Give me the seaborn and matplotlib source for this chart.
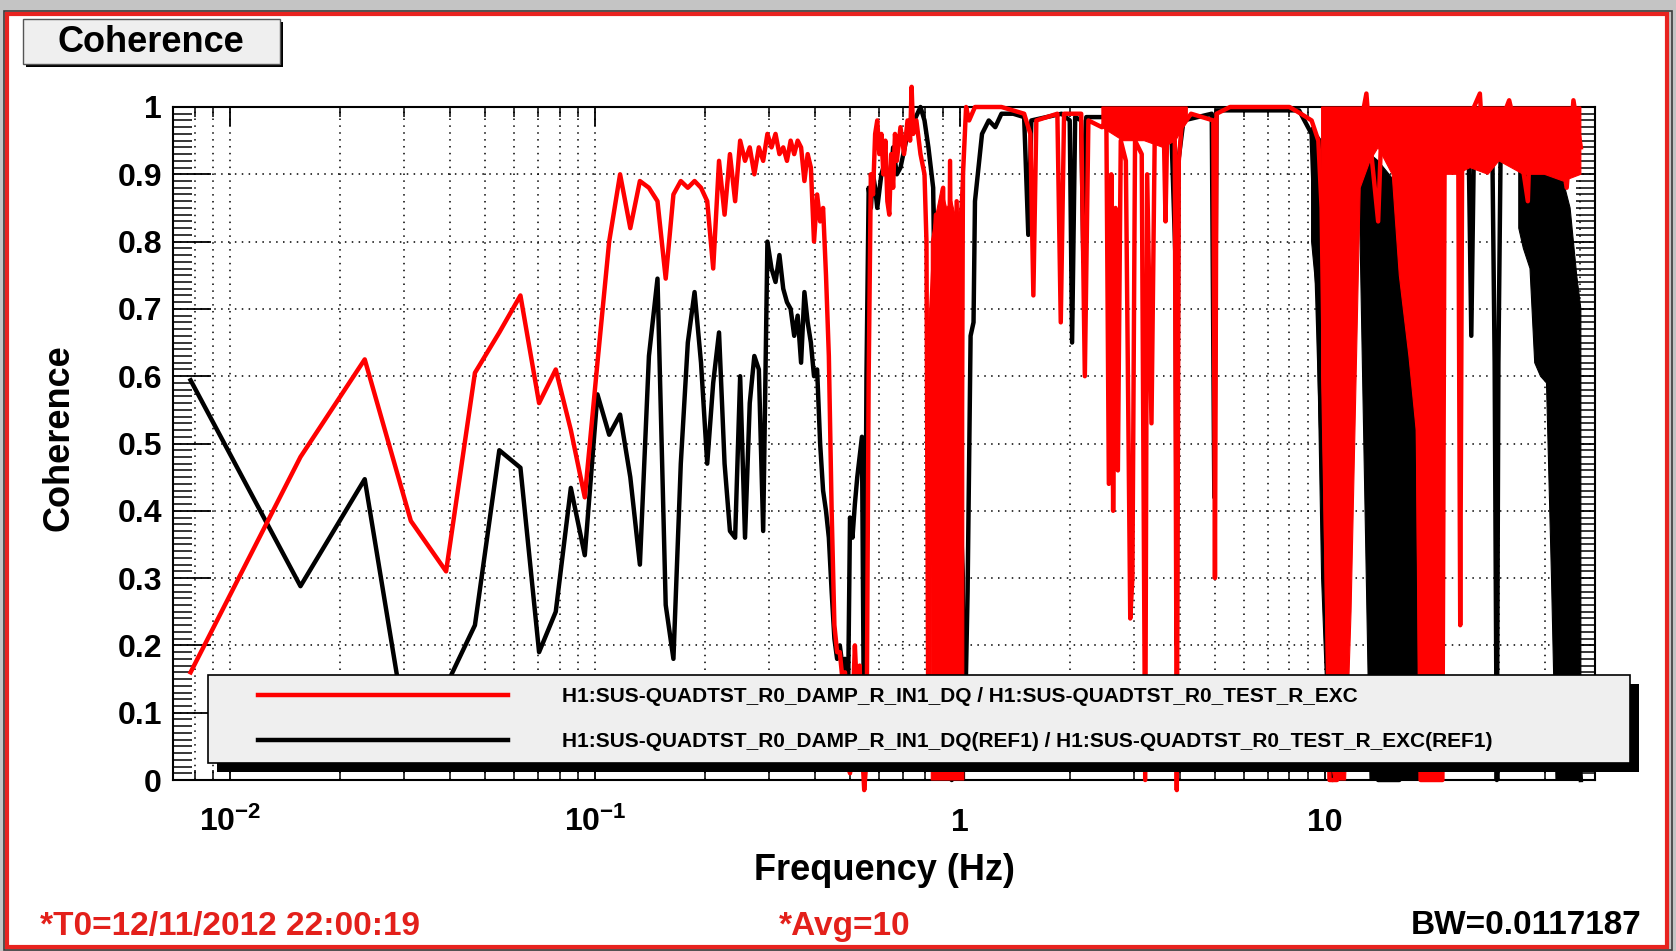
import numpy as np
import pandas as pd
import seaborn as sns
import matplotlib.pyplot as plt
from matplotlib import patches, patheffects
from matplotlib.ticker import MultipleLocator, LogLocator, NullFormatter

# coherence (frequency in Hz)
red_freq = [0.0078, 0.0156, 0.0234, 0.0313, 0.0391, 0.0469, 0.0547, 0.0625, 0.0703, 0.0781,
            0.0859, 0.0938, 0.1016, 0.1094, 0.1172, 0.125, 0.1328, 0.1406, 0.1484, 0.1563,
            0.1641, 0.1719, 0.1797, 0.1875, 0.1953, 0.2031, 0.2109, 0.2188, 0.2266, 0.2344,
            0.2422, 0.25, 0.2578, 0.2656, 0.2734, 0.2813, 0.2891, 0.2969, 0.3047, 0.3125,
            0.3203, 0.3281, 0.3359, 0.3438, 0.3516, 0.3594, 0.3672, 0.375, 0.3828, 0.3906,
            0.3984, 0.4063, 0.4141, 0.4219, 0.4297, 0.4375, 0.4453, 0.4531, 0.4609, 0.4688,
            0.4766, 0.4844, 0.4922, 0.5, 0.5078, 0.5156, 0.5234, 0.5313, 0.5391, 0.5469,
            0.5547, 0.5625, 0.5703, 0.5781, 0.5859, 0.5938, 0.6016, 0.6094, 0.6172, 0.625,
            0.6328, 0.6406, 0.6484, 0.6563, 0.6641, 0.6719, 0.6875, 0.7031, 0.7188, 0.7305,
            0.7375, 0.7451, 0.76, 0.78, 0.80, 0.81, 0.82, 0.835, 0.86, 0.88,
            0.90, 0.92, 0.94, 0.96, 0.98, 1.0, 1.02, 1.04, 1.06, 1.10,
            1.30, 1.50, 1.56, 1.59, 1.62, 1.85, 1.89, 1.93, 2.15, 2.20,
            2.25, 2.45, 2.52, 2.56, 2.60, 2.63, 2.67, 2.71, 2.76, 2.85,
            2.93, 2.97, 3.02, 3.15, 3.22, 3.26, 3.35, 3.42, 3.62, 3.66,
            3.70, 3.88, 3.93, 3.98, 4.05, 4.30, 4.95, 5.0, 5.05, 5.5,
            8.0, 8.6, 9.2, 9.6, 9.8, 10.3, 10.8, 11.5, 11.8, 12.5,
            13.0, 13.3, 14.0, 14.3, 15.3, 16.0, 17.0, 18.0, 18.3, 20.0,
            21.0, 21.3, 22.0, 23.2, 23.5, 23.8, 26.6, 27.0, 30.0, 32.0,
            34.0, 36.0, 36.5, 40.0, 44.0, 46.0, 48.0, 50.3]
red_coh = [0.16, 0.48, 0.625, 0.385, 0.31, 0.605, 0.665, 0.72, 0.56, 0.61,
           0.52, 0.42, 0.62, 0.80, 0.90, 0.82, 0.89, 0.88, 0.86, 0.745,
           0.87, 0.89, 0.88, 0.89, 0.88, 0.86, 0.76, 0.92, 0.84, 0.93,
           0.86, 0.95, 0.92, 0.94, 0.90, 0.94, 0.92, 0.96, 0.94, 0.96,
           0.93, 0.94, 0.92, 0.95, 0.93, 0.95, 0.94, 0.89, 0.93, 0.91,
           0.80, 0.87, 0.83, 0.85, 0.75, 0.63, 0.40, 0.23, 0.19, 0.19,
           0.15, 0.16, 0.03, 0.01, 0.10, 0.20, 0.12, 0.17, 0.05, -0.015,
           0.03, 0.60, 0.90, 0.87, 0.96, 0.98, 0.93, 0.96, 0.90, 0.95,
           0.86, 0.84, 0.93, 0.88, 0.96, 0.92, 0.97, 0.93, 0.98, 0.95,
           1.03, 0.96, 0.98, 0.93, 0.90, 0.80, 0.02, 0.70, 0.84, 0.05,
           0.88, 0.02, 0.92, 0.03, 0.86, 0.01, 0.90, 1.0, 0.98, 1.0,
           1.0, 0.99, 0.96, 0.72, 0.98, 0.99, 0.68, 0.99, 0.99, 0.60,
           0.98, 0.97, 0.98, 0.44, 0.90, 0.40, 0.85, 0.46, 0.95, 0.92,
           0.24, 0.30, 0.95, 0.93, 0.0, 0.90, 0.53, 0.96, 0.97, 0.83,
           0.97, 0.95, -0.015, 0.92, 0.97, 0.99, 0.98, 0.30, 0.99, 1.0,
           1.0, 0.99, 0.98, 0.95, 0.85, 0.0, 0.0, 0.30, 0.95, 0.97,
           1.02, 0.95, 0.83, 0.97, 0.98, 0.90, 0.80, 0.55, 0.0, 0.0,
           0.0, 0.95, 0.98, 0.96, 0.23, 0.96, 1.02, 0.96, 0.97, 1.01,
           0.95, 0.86, 0.96, 0.97, 0.95, 0.88, 1.01, 0.94]

black_freq = [0.0078, 0.0156, 0.0234, 0.0313, 0.0391, 0.0469, 0.0547, 0.0625, 0.0703, 0.0781,
              0.0859, 0.0938, 0.1016, 0.1094, 0.1172, 0.125, 0.1328, 0.1406, 0.1484, 0.1563,
              0.1641, 0.1719, 0.1797, 0.1875, 0.1953, 0.2031, 0.2109, 0.2188, 0.2266, 0.2344,
              0.2422, 0.25, 0.2578, 0.2656, 0.2734, 0.2813, 0.2891, 0.2969, 0.3047, 0.3125,
              0.3203, 0.3281, 0.3359, 0.3438, 0.3516, 0.3594, 0.3672, 0.375, 0.3828, 0.3906,
              0.3984, 0.4063, 0.4141, 0.4219, 0.4297, 0.4375, 0.4453, 0.4531, 0.4609, 0.4688,
              0.4766, 0.4844, 0.4922, 0.5, 0.5078, 0.5156, 0.5234, 0.5313, 0.5391, 0.5469,
              0.5547, 0.5625, 0.5703, 0.5781, 0.5859, 0.5938, 0.6094, 0.625, 0.6406, 0.6563,
              0.6719, 0.6875, 0.7188, 0.75, 0.78, 0.80, 0.82, 0.845, 0.87, 0.90,
              0.95, 1.0, 1.03, 1.05, 1.07, 1.09, 1.10, 1.12, 1.15, 1.20,
              1.25, 1.30, 1.40, 1.50, 1.54, 1.57, 1.90, 2.00, 2.03, 2.07,
              2.15, 2.18, 2.22, 2.60, 2.70, 3.00, 3.60, 3.80, 3.90, 3.93,
              3.97, 4.10, 4.90, 4.98, 5.05, 8.5, 9.2, 9.5, 9.8, 10.5,
              11.0, 11.3, 12.0, 13.0, 13.3, 14.0, 16.0, 19.5, 21.0, 23.0,
              24.8, 25.2, 25.6, 27.0, 28.8, 29.2, 29.6, 29.9, 30.3, 32.0,
              34.0, 40.0, 45.0, 50.3]
black_coh = [0.594, 0.288, 0.447, 0.03, 0.14, 0.23, 0.49, 0.464, 0.19, 0.25,
             0.434, 0.334, 0.573, 0.513, 0.543, 0.45, 0.32, 0.63, 0.745, 0.26,
             0.18, 0.47, 0.65, 0.725, 0.62, 0.47, 0.59, 0.665, 0.47, 0.37,
             0.36, 0.60, 0.36, 0.56, 0.63, 0.61, 0.37, 0.80, 0.76, 0.74,
             0.78, 0.73, 0.71, 0.70, 0.66, 0.69, 0.62, 0.725, 0.68, 0.65,
             0.60, 0.61, 0.50, 0.43, 0.40, 0.36, 0.28, 0.21, 0.18, 0.20,
             0.17, 0.18, 0.05, 0.39, 0.36, 0.41, 0.45, 0.48, 0.51, 0.02,
             0.60, 0.88, 0.85, 0.90, 0.88, 0.85, 0.90, 0.92, 0.87, 0.94,
             0.90, 0.91, 0.96, 0.98, 1.0, 0.98, 0.94, 0.88, 0.35, 0.02,
             0.0, 0.02, 0.05, 0.28, 0.66, 0.68, 0.86, 0.90, 0.96, 0.98,
             0.97, 0.99, 0.99, 0.985, 0.81, 0.98, 0.99, 0.98, 0.65, 0.985,
             0.98, 0.77, 0.985, 0.985, 0.96, 0.97, 0.97, 0.96, 0.77, 0.20,
             0.92, 0.98, 0.99, 0.42, 0.995, 0.995, 0.96, 0.75, 0.50, 0.0,
             0.20, 0.97, 0.98, 0.96, 0.90, 0.0, 0.0, 0.5, 0.95, 0.96,
             0.93, 0.66, 0.93, 0.96, 0.92, 0.62, 0.0, 0.62, 0.92, 0.93,
             0.92, 0.90, 0.50, 0.0]

# where the trace swings faster than a pixel it shows as a solid band: min / max envelope
nan = np.nan
red_band_freq = [0.835, 0.86, 0.89, 0.92, 0.95, 0.98, 1.0, 1.025, nan,
                 2.45, 2.8, 3.2, 3.6, 3.9, 4.2, nan,
                 9.8, 10.2, 10.6, 11.0, 11.4, 11.8, 12.5, 13.3, 14.0, 15.3, 16.0, 17.0,
                 17.8, 18.2, 19.0, 20.0, 21.0, 21.3, 23.0, 25.0, 28.0, 30.0, 35.0, 40.0,
                 45.0, 50.3]
red_band_hi = [0.80, 0.84, 0.88, 0.85, 0.86, 0.83, 0.85, 0.95, nan,
               1.0, 1.0, 1.0, 1.0, 1.0, 1.0, nan,
               1.0, 1.0, 1.0, 1.0, 1.0, 1.0, 1.0, 1.0, 1.0, 1.0, 1.0, 1.0,
               1.0, 1.0, 1.0, 1.0, 1.0, 1.0, 1.0, 1.0, 1.0, 1.0, 1.0, 1.0,
               1.0, 1.0]
red_band_lo = [0.0, 0.0, 0.0, 0.0, 0.0, 0.0, 0.0, 0.0, nan,
               0.97, 0.95, 0.95, 0.94, 0.95, 0.98, nan,
               0.60, 0.05, 0.0, 0.0, 0.0, 0.25, 0.88, 0.92, 0.94, 0.90, 0.75, 0.63,
               0.52, 0.0, 0.0, 0.0, 0.0, 0.90, 0.90, 0.91, 0.90, 0.92, 0.90, 0.90,
               0.89, 0.90]

black_band_freq = [0.845, 0.87, 0.9, 0.95, 1.0, 1.03, nan,
                   9.2, 9.5, 9.8, 10.2, 10.6, 11.0, 11.3, nan,
                   12.4, 13.3, 14.0, 15.0, 16.0, 17.0, 18.0, 19.0, 19.8, nan,
                   34.0, 35.0, 36.5, 37.6, 39.0, 40.5, 41.8, 43.0, 45.0, 47.0, 49.0, 50.3]
black_band_hi = [0.88, 0.80, 0.75, 0.60, 0.50, 0.30, nan,
                 0.97, 0.96, 0.95, 0.95, 0.95, 0.95, 0.96, nan,
                 0.95, 0.93, 0.92, 0.90, 0.88, 0.86, 0.85, 0.85, 0.85, nan,
                 0.92, 0.92, 0.92, 0.91, 0.91, 0.90, 0.90, 0.90, 0.89, 0.85, 0.75, 0.70]
black_band_lo = [0.35, 0.10, 0.0, 0.0, 0.0, 0.0, nan,
                 0.80, 0.72, 0.30, 0.05, 0.0, 0.0, 0.60, nan,
                 0.90, 0.0, 0.0, 0.0, 0.0, 0.0, 0.0, 0.0, 0.40, nan,
                 0.82, 0.79, 0.76, 0.62, 0.60, 0.59, 0.30, 0.0, 0.0, 0.0, 0.0, 0.0]

legend_labels = ["H1:SUS-QUADTST_R0_DAMP_R_IN1_DQ / H1:SUS-QUADTST_R0_TEST_R_EXC",
                 "H1:SUS-QUADTST_R0_DAMP_R_IN1_DQ(REF1) / H1:SUS-QUADTST_R0_TEST_R_EXC(REF1)"]
x_tick_values = [0.01, 0.1, 1, 10]
x_tick_labels = ["$10^{-2}$", "$10^{-1}$", "1", "10"]
y_tick_values = [0.0, 0.1, 0.2, 0.3, 0.4, 0.5, 0.6, 0.7, 0.8, 0.9, 1.0]
y_tick_labels = ["0", "0.1", "0.2", "0.3", "0.4", "0.5", "0.6", "0.7", "0.8", "0.9", "1"]


def fill_bands(ax, freq, lo, hi, color, zorder):
    # one closed polygon per nan-separated stretch: upper edge out, lower edge back
    freq, lo, hi = np.asarray(freq), np.asarray(lo), np.asarray(hi)
    breaks = np.where(np.isnan(freq))[0]
    start = 0
    for stop in list(breaks) + [len(freq)]:
        f = freq[start:stop]
        xs = np.concatenate([f, f[::-1]])
        ys = np.concatenate([hi[start:stop], lo[start:stop][::-1]])
        ax.fill(xs, ys, color=color, lw=0.8, zorder=zorder, clip_on=False)
        start = stop + 1


plt.rcParams['font.family'] = ['Liberation Sans', 'DejaVu Sans']
plt.rcParams['font.weight'] = 'bold'
plt.rcParams['mathtext.fontset'] = 'custom'
plt.rcParams['mathtext.rm'] = 'Liberation Sans:bold'
plt.rcParams['mathtext.bf'] = 'Liberation Sans:bold'
plt.rcParams['mathtext.it'] = 'Liberation Sans:bold'
plt.rcParams['mathtext.default'] = 'rm'

W, H = 1676, 951
def fx(px):
    return px / W
def fy(py):
    return 1 - py / H

fig = plt.figure(figsize=(W / 100, H / 100), dpi=100)
fig.patch.set_facecolor('#c4c4c4')
# canvas frame
fig.add_artist(patches.Rectangle((fx(3.5), fy(950)), fx(1672) - fx(3.5), fy(10.5) - fy(950),
                                 transform=fig.transFigure, facecolor='none', edgecolor='#3c3c3c', lw=1.2, zorder=-3))
fig.add_artist(patches.Rectangle((fx(7), fy(946.5)), fx(1667) - fx(7), fy(14) - fy(946.5),
                                 transform=fig.transFigure, facecolor='white', edgecolor='#e8231f', lw=3.0, zorder=-2))

ax = fig.add_axes([fx(173), fy(780), fx(1595) - fx(173), fy(107) - fy(780)])
ax.set_xscale('log')

df_red = pd.DataFrame({'freq': red_freq, 'coh': red_coh})
df_black = pd.DataFrame({'freq': black_freq, 'coh': black_coh})

sns.lineplot(data=df_black, x='freq', y='coh', estimator=None, sort=False, color='black',
             lw=3.2, clip_on=False, label=legend_labels[1], legend=False, ax=ax, zorder=3)
fill_bands(ax, black_band_freq, black_band_lo, black_band_hi, 'black', 3)
sns.lineplot(data=df_red, x='freq', y='coh', estimator=None, sort=False, color='#ff0000',
             lw=3.2, clip_on=False, label=legend_labels[0], legend=False, ax=ax, zorder=4)
fill_bands(ax, red_band_freq, red_band_lo, red_band_hi, '#ff0000', 4)

ax.set_xlim(0.00698, 55)
ax.set_ylim(0, 1)
ax.set_xticks(x_tick_values, labels=x_tick_labels)
ax.xaxis.set_minor_locator(LogLocator(base=10, subs=np.arange(2, 10)))
ax.xaxis.set_minor_formatter(NullFormatter())
ax.set_yticks(y_tick_values, labels=y_tick_labels)
ax.yaxis.set_minor_locator(MultipleLocator(0.01))

ax.tick_params(axis='y', which='major', direction='in', length=27, width=1.3,
               left=True, right=True, labelsize=23, pad=8)
ax.tick_params(axis='y', which='minor', direction='in', length=14, width=1.1, left=True, right=True)
ax.tick_params(axis='x', which='major', direction='in', length=14, width=1.3,
               top=True, bottom=True, labelsize=23, pad=37)
ax.tick_params(axis='x', which='minor', direction='in', length=7, width=1.1, top=True, bottom=True)
for t in ax.xaxis.get_major_ticks():
    t.label1.set_verticalalignment('baseline')

ax.grid(which='major', axis='y', color='black', linestyle=(0, (1, 3.5)), lw=1.1)
ax.grid(which='both', axis='x', color='black', linestyle=(0, (1, 3.5)), lw=1.1)
for s in ax.spines.values():
    s.set_linewidth(1.5)
    s.set_color('black')

ax.set_xlabel('Frequency (Hz)', fontsize=26, fontweight='bold')
ax.set_ylabel('Coherence', fontsize=26, fontweight='bold')
ax.xaxis.label.set_verticalalignment('center')
ax.yaxis.label.set_verticalalignment('center')
ax.xaxis.set_label_coords(0.5, (780 - 871) / 673)
ax.yaxis.set_label_coords((59 - 173) / 1422, (780 - 438) / 673)

# legend box (sticks out past the right edge of the pad, with a hard shadow)
shadow = [patheffects.SimplePatchShadow(offset=(6.5, -6.5), shadow_rgbFace='black', alpha=1.0),
          patheffects.Normal()]
fig.add_artist(patches.Rectangle((fx(208), fy(763)), fx(1630) - fx(208), fy(675) - fy(763),
                                 transform=fig.transFigure, facecolor='#efefef', edgecolor='black',
                                 lw=1.2, zorder=2, path_effects=shadow))
handles, labels = ax.get_legend_handles_labels()
order = [labels.index(legend_labels[0]), labels.index(legend_labels[1])]
fig.legend([handles[i] for i in order], [labels[i] for i in order], loc='upper left',
           bbox_to_anchor=(fx(258), fy(687)), frameon=False, prop={'size': 15, 'weight': 'bold'},
           handlelength=12, handletextpad=2.6, labelspacing=1.25, borderpad=0, borderaxespad=0)

# pad title button
fig.add_artist(patches.Rectangle((fx(23), fy(64)), fx(280) - fx(23), fy(19) - fy(64),
                                 transform=fig.transFigure, facecolor='#efefef', edgecolor='#555555', lw=1.0,
                                 zorder=2, path_effects=[patheffects.SimplePatchShadow(offset=(2.5, -2.5),
                                 shadow_rgbFace='black', alpha=1.0), patheffects.Normal()]))
fig.text(fx(151), fy(42), 'Coherence', ha='center', va='center', fontsize=26, fontweight='bold', zorder=3)

fig.text(fx(40), fy(926), '*T0=12/11/2012 22:00:19', ha='left', va='center', fontsize=24,
         fontweight='bold', color='#e3201b')
fig.text(fx(845), fy(926), '*Avg=10', ha='center', va='center', fontsize=24,
         fontweight='bold', color='#e3201b')
fig.text(fx(1641), fy(926), 'BW=0.0117187', ha='right', va='center', fontsize=24,
         fontweight='bold', color='black')

fig.savefig('out.png', dpi=100, facecolor=fig.get_facecolor())
